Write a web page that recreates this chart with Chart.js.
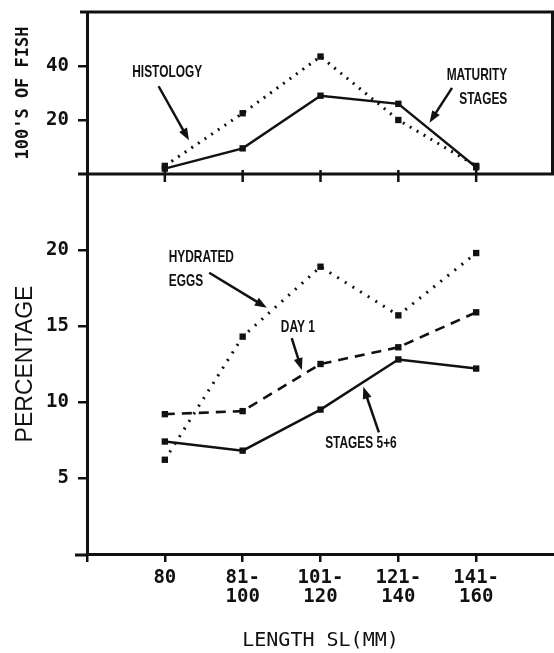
<!DOCTYPE html>
<html>
<head>
<meta charset="utf-8">
<script src="https://cdn.jsdelivr.net/npm/chart.js@4.4.1/dist/chart.umd.min.js"></script>
<style>
  html, body { margin: 0; padding: 0; background: #fff; }
  #wrap { width: 554px; height: 653px; }
</style>
</head>
<body>
<div id="wrap"><canvas id="chart" width="554" height="653"></canvas></div>
<script>
// categories (length SL, mm) and series
const categories = ['80', ['81-', '100'], ['101-', '120'], ['121-', '140'], ['141-', '160']];
const histology = [3, 22.5, 43.5, 20, 3];
const maturityStages = [2, 9.5, 29, 26, 2.5];
const hydratedEggs = [6.2, 14.3, 18.9, 15.7, 19.8];
const day1 = [9.2, 9.4, 12.5, 13.6, 15.9];
const stages56 = [7.4, 6.8, 9.5, 12.8, 12.2];
const fishTicks = [20, 40];
const pctTicks = [5, 10, 15, 20];

const ink = '#111';
const mono = '"DejaVu Sans Mono", "Liberation Mono", monospace';
const sans = '"Liberation Sans", Arial, sans-serif';

function pts(arr) {
    return arr.map((v, i) => ({ x: i, y: v }));
}

// text labels with arrows, placed in data units (x = category index)
const notes = [
    { axis: 'yf', lines: ['HISTOLOGY'], at: [0.03, 37.5], align: 'center', from: [-0.08, 32.5], to: [0.31, 12.5] },
    { axis: 'yf', lines: ['MATURITY', 'STAGES'], at: [4.4, 36.7], align: 'right', from: [3.69, 31.9], to: [3.40, 19.0] },
    { axis: 'y', lines: ['HYDRATED', 'EGGS'], at: [0.05, 19.5], align: 'left', from: [0.57, 18.5], to: [1.31, 16.2] },
    { axis: 'y', lines: ['DAY 1'], at: [1.49, 14.9], align: 'left', from: [1.63, 14.2], to: [1.76, 12.1] },
    { axis: 'y', lines: ['STAGES 5+6'], at: [2.06, 7.3], align: 'left', from: [2.75, 8.0], to: [2.55, 11.0] }
];

function arrow(ctx, x1, y1, x2, y2) {
    const a = Math.atan2(y2 - y1, x2 - x1);
    ctx.beginPath();
    ctx.moveTo(x1, y1);
    ctx.lineTo(x2 - 6 * Math.cos(a), y2 - 6 * Math.sin(a));
    ctx.stroke();
    ctx.beginPath();
    ctx.moveTo(x2, y2);
    ctx.lineTo(x2 - 12 * Math.cos(a) + 4.5 * Math.sin(a), y2 - 12 * Math.sin(a) - 4.5 * Math.cos(a));
    ctx.lineTo(x2 - 12 * Math.cos(a) - 4.5 * Math.sin(a), y2 - 12 * Math.sin(a) + 4.5 * Math.cos(a));
    ctx.closePath();
    ctx.fill();
}

const squeeze = 0.7; // the original lettering is narrow

const framePlugin = {
    id: 'frame',
    afterDraw(chart) {
        const ctx = chart.ctx;
        const x = chart.scales.x;
        const yf = chart.scales.yf;
        const area = chart.chartArea;
        ctx.save();
        ctx.strokeStyle = ink;
        ctx.fillStyle = ink;
        ctx.lineWidth = 3;
        // top panel box
        ctx.beginPath();
        ctx.moveTo(80, yf.top);
        ctx.lineTo(area.right - 1.5, yf.top);
        ctx.lineTo(area.right - 1.5, yf.bottom);
        ctx.moveTo(78, yf.bottom);
        ctx.lineTo(area.right, yf.bottom);
        // x axis runs a little past the y axis
        ctx.moveTo(75, area.bottom + 1);
        ctx.lineTo(area.left, area.bottom + 1);
        ctx.stroke();
        // tick marks on the divider
        ctx.lineWidth = 2.5;
        ctx.beginPath();
        for (let i = 0; i < categories.length; i++) {
            const px = x.getPixelForValue(i);
            ctx.moveTo(px, yf.bottom - 4);
            ctx.lineTo(px, yf.bottom + 8);
        }
        ctx.stroke();

        // notes
        ctx.lineWidth = 2.5;
        notes.forEach(n => {
            const ys = chart.scales[n.axis];
            const tx = x.getPixelForValue(n.at[0]);
            const ty = ys.getPixelForValue(n.at[1]);
            ctx.save();
            ctx.translate(tx, ty);
            ctx.scale(squeeze, 1);
            ctx.font = 'bold 17px ' + sans;
            ctx.textBaseline = 'middle';
            ctx.textAlign = n.align;
            n.lines.forEach((t, k) => ctx.fillText(t, 0, k * 24));
            ctx.restore();
            arrow(ctx, x.getPixelForValue(n.from[0]), ys.getPixelForValue(n.from[1]),
                x.getPixelForValue(n.to[0]), ys.getPixelForValue(n.to[1]));
        });
        ctx.restore();
    }
};

function series(data, axis, dash, width) {
    return {
        data: pts(data),
        yAxisID: axis,
        borderColor: ink,
        backgroundColor: ink,
        borderWidth: width,
        borderDash: dash,
        pointStyle: 'rect',
        pointRadius: 4.5,
        pointBorderWidth: 0,
        tension: 0
    };
}

function onlyTicks(list) {
    return s => { s.ticks = list.map(v => ({ value: v })); };
}

// fixed axis sizes, no extra room for overhanging labels
function fixSize(w, h) {
    return s => {
        if (w) s.width = w;
        if (h) s.height = h;
        s.paddingTop = s.paddingBottom = s.paddingLeft = s.paddingRight = 0;
    };
}

let chart = new Chart(document.getElementById('chart'), {
    type: 'line',
    data: {
        datasets: [
            series(histology, 'yf', [2, 6], 3),
            series(maturityStages, 'yf', [], 2.4),
            series(hydratedEggs, 'y', [2, 7], 3),
            series(day1, 'y', [10, 7], 2.6),
            series(stages56, 'y', [], 2.4)
        ]
    },
    options: {
        responsive: false,
        animation: false,
        layout: { autoPadding: false, padding: { top: 12, right: 0, left: 0, bottom: 0 } },
        plugins: { legend: { display: false }, tooltip: { enabled: false } },
        scales: {
            x: {
                type: 'linear',
                min: -1,
                max: 5,
                afterBuildTicks: onlyTicks([-1, 0, 1, 2, 3, 4]),
                afterFit: fixSize(0, 99),
                border: { color: ink, width: 3 },
                grid: { drawOnChartArea: false, tickLength: 8, lineWidth: 2.5, color: ink },
                ticks: {
                    autoSkip: false,
                    maxRotation: 0,
                    padding: 7,
                    color: ink,
                    font: { family: mono, size: 19, weight: 'bold', lineHeight: 1.0 },
                    callback: v => (v >= 0 && v < categories.length) ? categories[v] : ''
                },
                title: {
                    display: true,
                    text: 'LENGTH SL(MM)',
                    color: ink,
                    font: { family: mono, size: 20 },
                    padding: { top: 20, bottom: 0 }
                }
            },
            y: {
                type: 'linear',
                position: 'left',
                stack: 'panels',
                stackWeight: 380,
                min: 0,
                max: 25,
                afterBuildTicks: onlyTicks(pctTicks),
                afterFit: fixSize(87, 0),
                border: { color: ink, width: 3 },
                grid: { drawOnChartArea: false, tickLength: 9, lineWidth: 2.5, color: ink },
                ticks: {
                    padding: 9,
                    color: ink,
                    font: { family: mono, size: 19, weight: 'bold' }
                },
                title: {
                    display: true,
                    text: 'PERCENTAGE',
                    color: ink,
                    font: { family: sans, size: 23 },
                    padding: { top: 12, bottom: 0 }
                }
            },
            yf: {
                type: 'linear',
                position: 'left',
                stack: 'panels',
                stackWeight: 162,
                min: 0,
                max: 60,
                afterBuildTicks: onlyTicks(fishTicks),
                afterFit: fixSize(87, 0),
                border: { color: ink, width: 3 },
                grid: { drawOnChartArea: false, tickLength: 9, lineWidth: 2.5, color: ink },
                ticks: {
                    padding: 9,
                    color: ink,
                    font: { family: mono, size: 19, weight: 'bold' }
                },
                title: {
                    display: true,
                    text: "100'S OF FISH",
                    color: ink,
                    font: { family: mono, size: 17, weight: 'bold' },
                    padding: { top: 13, bottom: 0 }
                }
            }
        }
    },
    plugins: [framePlugin]
});
</script>
</body>
</html>
